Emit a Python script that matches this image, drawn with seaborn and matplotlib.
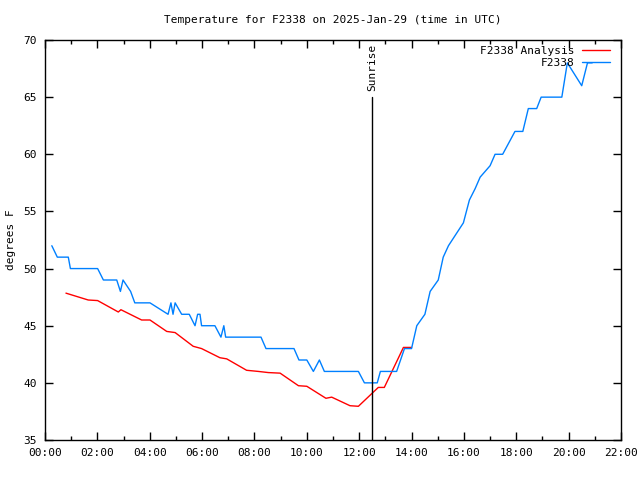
import matplotlib
matplotlib.use("Agg")
import matplotlib.pyplot as plt
from matplotlib.ticker import MultipleLocator, FuncFormatter
import pandas as pd
import seaborn as sns

# observed temperature (hours UTC, degrees F)
obs_hours = [0.26, 0.47, 0.89, 0.97, 2.01, 2.23, 2.74, 2.88, 2.98, 3.27, 3.43,
             4.01, 4.70, 4.81, 4.89, 4.97, 5.22, 5.51, 5.73, 5.83, 5.92, 5.98,
             6.49, 6.72, 6.83, 6.90, 8.25, 8.44, 9.51, 9.70, 10.0, 10.25, 10.48,
             10.67, 11.97, 12.20, 12.69, 12.81, 13.43, 13.73, 14.0, 14.2, 14.51,
             14.71, 15.02, 15.21, 15.41, 15.98, 16.21, 16.43, 16.62, 17.0, 17.19,
             17.48, 17.95, 18.25, 18.46, 18.78, 18.95, 19.74, 19.95, 20.50, 20.72,
             20.9]
obs_temp = [52, 51, 51, 50, 50, 49, 49, 48, 49, 48, 47,
            47, 46, 47, 46, 47, 46, 46, 45, 46, 46, 45,
            45, 44, 45, 44, 44, 43, 43, 42, 42, 41, 42,
            41, 41, 40, 40, 41, 41, 43, 43, 45, 46,
            48, 49, 51, 52, 54, 56, 57, 58, 59, 60,
            60, 62, 62, 64, 64, 65, 65, 68, 66, 68,
            68]

# analysis temperature
ana_hours = [0.80, 1.65, 2.01, 2.80, 2.90, 3.69, 4.01, 4.65, 4.97, 5.66, 5.98,
             6.68, 6.94, 7.70, 8.15, 8.53, 8.98, 9.68, 10.0, 10.73, 10.95, 11.65,
             11.97, 12.73, 12.96, 13.69, 14.0]
ana_temp = [47.85, 47.25, 47.2, 46.2, 46.4, 45.5, 45.5, 44.5, 44.4, 43.2, 43.0,
            42.2, 42.1, 41.1, 41.0, 40.9, 40.85, 39.75, 39.7, 38.65, 38.75, 38.0,
            37.95, 39.6, 39.6, 43.1, 43.1]

sunrise_hour = 12.49
title = "Temperature for F2338 on 2025-Jan-29 (time in UTC)"

sns.set_style("ticks")
plt.rcParams['font.family'] = ['DejaVu Sans Mono']
plt.rcParams['font.size'] = 8
for k in ["text.color", "axes.labelcolor", "xtick.color", "ytick.color", "axes.edgecolor"]:
    plt.rcParams[k] = "black"

fig = plt.figure(figsize=(6.4, 4.8), dpi=100)
ax = fig.add_axes([45 / 640, 40 / 480, 576 / 640, 400 / 480])

df_ana = pd.DataFrame({"hour": ana_hours, "temp": ana_temp})
df_obs = pd.DataFrame({"hour": obs_hours, "temp": obs_temp})
sns.lineplot(data=df_ana, x="hour", y="temp", ax=ax, color="#ff0000",
             linewidth=1, label="F2338 Analysis", sort=False)
sns.lineplot(data=df_obs, x="hour", y="temp", ax=ax, color="#0080ff",
             linewidth=1, label="F2338", sort=False)

# sunrise marker
ax.plot([sunrise_hour, sunrise_hour], [35, 65], color="black", linewidth=1)
ax.text(sunrise_hour, 65.5, "Sunrise", rotation=90, ha="center", va="bottom")

ax.set_xlim(0, 22)
ax.set_ylim(35, 70)
ax.xaxis.set_major_locator(MultipleLocator(2))
ax.xaxis.set_minor_locator(MultipleLocator(1))
ax.yaxis.set_major_locator(MultipleLocator(5))
ax.xaxis.set_major_formatter(FuncFormatter(lambda v, p: f"{int(round(v)):02d}:00"))
ax.tick_params(which="both", direction="in", top=True, right=True, width=1)
ax.tick_params(which="major", length=6, pad=6)
ax.tick_params(which="minor", length=3)
for s in ax.spines.values():
    s.set_linewidth(1)

ax.set_xlabel("")
ax.set_ylabel("degrees F")
ax.yaxis.set_label_coords(-0.05, 0.5)
ax.set_title(title, fontsize=8, pad=12)

leg = ax.legend(loc="upper right", bbox_to_anchor=(1 - 5.5 / 576, 1.0),
                frameon=False, markerfirst=False,
                handlelength=2.5, borderaxespad=0.1, labelspacing=0.2,
                handletextpad=0.7)

fig.savefig("out.png", dpi=100)
